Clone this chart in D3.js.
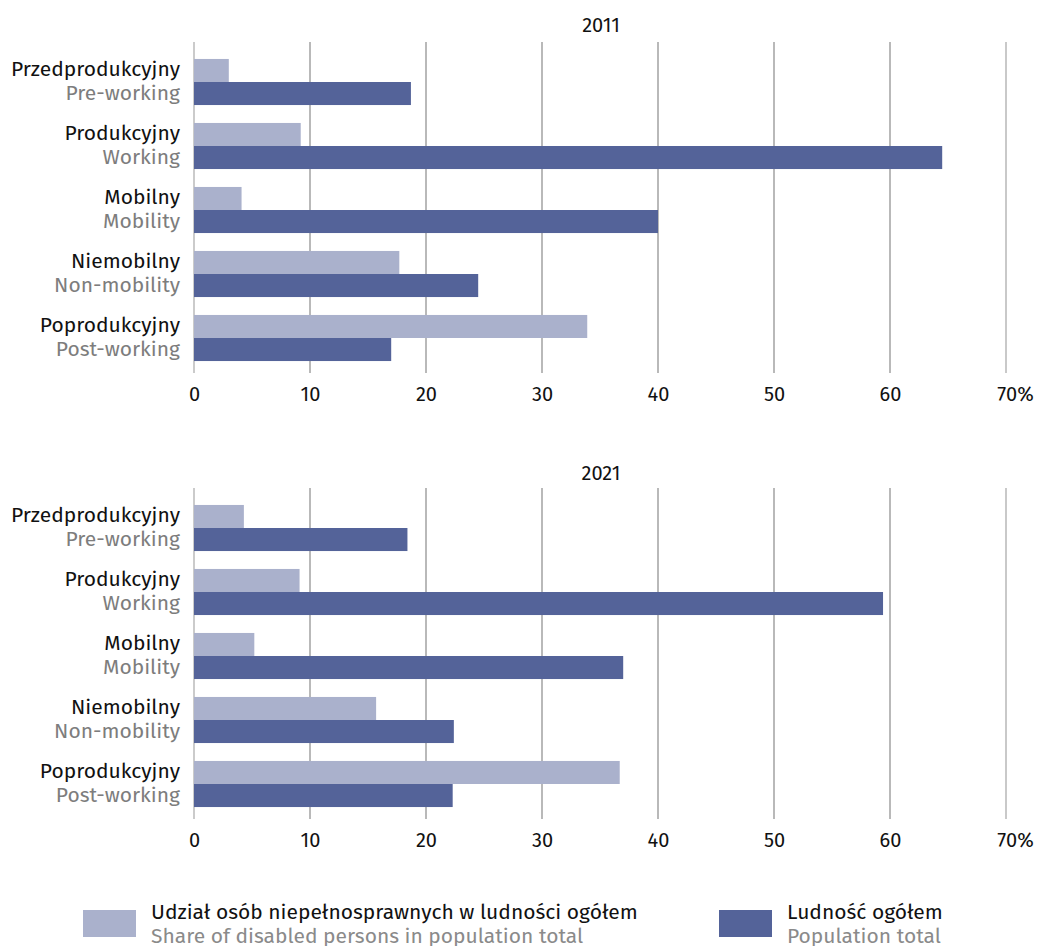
<!DOCTYPE html>
<html>
<head>
<meta charset="utf-8">
<script src="https://cdn.jsdelivr.net/npm/d3@7"></script>
<style>
  body { margin: 0; background: #fff; }
  svg text { font-family: "Fira Sans", "Noto Sans", sans-serif; }
</style>
</head>
<body>
<svg width="1039" height="946"></svg>
<script>
var categoriesPl = ["Przedprodukcyjny", "Produkcyjny", "Mobilny", "Niemobilny", "Poprodukcyjny"];
var categoriesEn = ["Pre-working", "Working", "Mobility", "Non-mobility", "Post-working"];
var years = ["2011", "2021"];
// share of disabled persons in population total
var disabled2011 = [3.0, 9.2, 4.1, 17.7, 33.9];
var disabled2021 = [4.3, 9.1, 5.2, 15.7, 36.7];
// population total
var population2011 = [18.7, 64.5, 40.0, 24.5, 17.0];
var population2021 = [18.4, 59.4, 37.0, 22.4, 22.3];
var tickValues = [0, 10, 20, 30, 40, 50, 60, 70];
var seriesPl = ["Udział osób niepełnosprawnych w ludności ogółem", "Ludność ogółem"];
var seriesEn = ["Share of disabled persons in population total", "Population total"];

var lightColor = "#aab1cc", darkColor = "#546399";

var svg = d3.select("svg");
var x = d3.scaleLinear().domain([0, 70]).range([194, 1006]);

function panel(top, year, light, dark, titleY) {
  var g = svg.append("g").attr("transform", "translate(0," + top + ")");
  var y = d3.scaleBand().domain(d3.range(5)).range([8, 328]).paddingInner(0.28).paddingOuter(0.14);

  g.append("text").attr("x", 601).attr("y", titleY)
    .attr("text-anchor", "middle").attr("font-size", 20).attr("fill", "#111")
    .text(year);

  // grid lines
  g.selectAll("line.grid").data(tickValues).enter().append("line")
    .attr("x1", function(d) { return x(d); }).attr("x2", function(d) { return x(d); })
    .attr("y1", 0).attr("y2", 331)
    .attr("stroke", function(d) { return d == 70 ? "#bcbcbc" : (d == 0 ? "#a8a8a8" : "#8a8a8a"); })
    .attr("stroke-width", function(d) { return d == 70 ? 1.6 : 1.2; });

  var half = y.bandwidth() / 2;
  g.selectAll("rect.light").data(light).enter().append("rect")
    .attr("x", x(0)).attr("y", function(d, i) { return y(i); })
    .attr("width", function(d) { return x(d) - x(0); }).attr("height", half)
    .attr("fill", lightColor);
  g.selectAll("rect.dark").data(dark).enter().append("rect")
    .attr("x", x(0)).attr("y", function(d, i) { return y(i) + half; })
    .attr("width", function(d) { return x(d) - x(0); }).attr("height", half)
    .attr("fill", darkColor);

  var lab = g.selectAll("g.lab").data(categoriesPl).enter().append("g")
    .attr("transform", function(d, i) { return "translate(180," + y(i) + ")"; });
  lab.append("text").attr("y", 17).attr("text-anchor", "end").attr("font-size", 21)
    .attr("fill", "#111").text(function(d) { return d; });
  lab.append("text").attr("y", 41).attr("text-anchor", "end").attr("font-size", 21)
    .attr("fill", "#7d7d7d").text(function(d, i) { return categoriesEn[i]; });

  var axis = d3.axisBottom(x).tickValues(tickValues).tickSize(0).tickPadding(0)
    .tickFormat(function(d) { return d == 70 ? "70%" : d; });
  var ax = g.append("g").attr("transform", "translate(0,345)").call(axis);
  ax.select(".domain").remove();
  ax.selectAll("text").attr("font-size", 20).attr("fill", "#111")
    .attr("font-family", "'Fira Sans', 'Noto Sans', sans-serif")
    .attr("dy", "0.71em")
    .attr("dx", function(d) { return d == 70 ? 9 : 0; });
}

panel(42, years[0], disabled2011, population2011, -10);
panel(488, years[1], disabled2021, population2021, -8);

// legend
var leg = svg.append("g");
var legX = [83, 719];
[lightColor, darkColor].forEach(function(c, i) {
  leg.append("rect").attr("x", legX[i]).attr("y", 910).attr("width", 53).attr("height", 27).attr("fill", c);
  leg.append("text").attr("x", legX[i] + 68).attr("y", 919).attr("font-size", 21).attr("fill", "#111").text(seriesPl[i]);
  leg.append("text").attr("x", legX[i] + 68).attr("y", 943).attr("font-size", 21).attr("fill", "#8a8a8a").text(seriesEn[i]);
});
</script>
</body>
</html>
